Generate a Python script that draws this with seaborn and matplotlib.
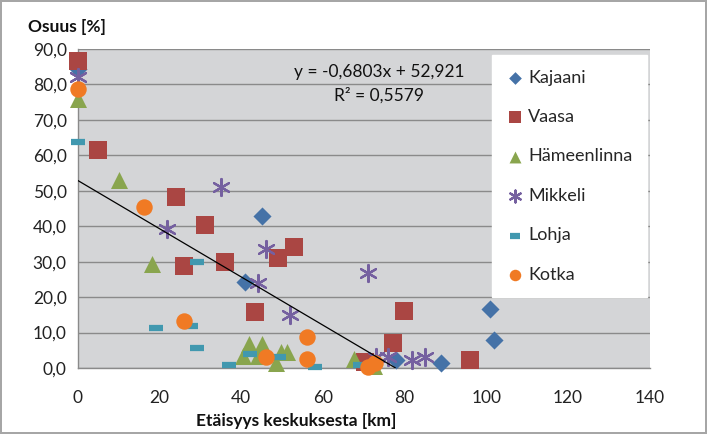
import numpy as np
import pandas as pd
import matplotlib
matplotlib.use("Agg")
import matplotlib.pyplot as plt
import seaborn as sns

# Share of trips (%) against distance from the centre (km), per town
kajaani_x = [0, 45.0, 40.9, 78.0, 89.0, 101.0, 101.8]
kajaani_y = [84.5, 42.9, 24.3, 2.4, 1.5, 16.6, 7.9]

vaasa_x = [0, 5.0, 24.0, 31.2, 52.9, 49.0, 26.1, 36.1, 43.3, 79.9, 77.2, 70.4, 96.1]
vaasa_y = [86.5, 61.5, 48.3, 40.3, 34.2, 31.0, 28.9, 30.0, 15.8, 16.2, 7.1, 1.8, 2.3]

hameenlinna_x = [0, 10.0, 18.2, 41.9, 45.0, 40.4, 44.0, 49.8, 51.2, 48.6, 67.5, 72.5]
hameenlinna_y = [76.0, 53.0, 29.4, 6.9, 6.9, 3.5, 3.5, 4.6, 4.6, 1.4, 2.5, 0.5]

mikkeli_x = [0, 35.0, 21.9, 46.0, 44.1, 51.9, 71.1, 73.1, 76.0, 81.7, 84.9]
mikkeli_y = [82.0, 51.0, 39.1, 33.5, 24.1, 15.0, 26.7, 3.0, 3.2, 2.3, 3.0]

lohja_x = [0, 19.1, 27.8, 29.2, 29.2, 37.0, 42.1, 49.2, 58.0, 69.0]
lohja_y = [63.7, 11.3, 11.9, 30.0, 5.6, 0.8, 3.9, 3.2, 0.2, 0.8]

kotka_x = [0, 16.2, 26.1, 46.0, 56.0, 56.0, 71.0, 72.7]
kotka_y = [78.6, 45.3, 13.2, 3.2, 8.7, 2.5, 0.4, 1.4]

# Linear trend over all towns
trend_slope = -0.6803
trend_intercept = 52.921
trend_r2 = 0.5579

x_ticks = [0, 20, 40, 60, 80, 100, 120, 140]
y_ticks = [0, 10, 20, 30, 40, 50, 60, 70, 80, 90]

series = [
    ("Kajaani", kajaani_x, kajaani_y, "D", "#4572A7", 85),
    ("Vaasa", vaasa_x, vaasa_y, "s", "#AA4643", 150),
    ("Hämeenlinna", hameenlinna_x, hameenlinna_y, "^", "#89A54E", 150),
    ("Mikkeli", mikkeli_x, mikkeli_y, (6, 2, 0), "#7560A0", 150),
    ("Lohja", lohja_x, lohja_y, "_", "#4198AF", 100),
    ("Kotka", kotka_x, kotka_y, "o", "#F07A24", 140),
]

sns.set_theme(style="white")
plt.rcParams["font.family"] = ["Lato", "DejaVu Sans"]

fig = plt.figure(figsize=(7.07, 4.34), dpi=100)
fig.patch.set_edgecolor("#A6A6A6")
fig.patch.set_linewidth(1.5)
ax = fig.add_axes([0.110, 0.152, 0.809, 0.735])
ax.set_facecolor("#D4D5D7")

for name, xs, ys, marker, color, size in series:
    df = pd.DataFrame({"x": xs, "y": ys})
    if marker == "_":
        kw = dict(linewidth=4.5, edgecolor=color)
    elif isinstance(marker, tuple):
        kw = dict(linewidth=1.6, edgecolor=color)
    else:
        kw = dict(linewidth=0)
    sns.scatterplot(data=df, x="x", y="y", ax=ax, marker=marker, color=color,
                    s=size, label=name, clip_on=False, zorder=3, **kw)

# Trend line from x=0 to where it meets the x axis
x_end = -trend_intercept / trend_slope
trend = pd.DataFrame({"x": [0, x_end]})
trend["y"] = trend_slope * trend["x"] + trend_intercept
sns.lineplot(data=trend, x="x", y="y", ax=ax, color="black", linewidth=0.9,
             zorder=4, legend=False)

ax.set_xlim(0, 140)
ax.set_ylim(0, 90)
ax.set_xticks(x_ticks)
ax.set_yticks(y_ticks)
ax.set_xticklabels([str(t) for t in x_ticks])
ax.set_yticklabels([f"{t:.1f}".replace(".", ",") for t in y_ticks])
ax.tick_params(axis="x", labelsize=12.5, colors="#222222", length=0, pad=16)
ax.tick_params(axis="y", labelsize=12.5, colors="#222222", length=4,
               color="#8A8A8A", direction="out", pad=4)
ax.yaxis.grid(True, color="#8A8A8A", linewidth=1)
ax.xaxis.grid(False)
ax.set_axisbelow(True)
for side in ["top", "right"]:
    ax.spines[side].set_visible(False)
for side in ["left", "bottom"]:
    ax.spines[side].set_color("#8A8A8A")
    ax.spines[side].set_linewidth(1)

ax.set_xlabel("")
ax.set_ylabel("")
fig.text(0.040, 0.937, "Osuus [%]", fontsize=12.5, fontweight="bold",
         color="#111111", va="center", ha="left")
fig.text(0.419, 0.030, "Etäisyys keskuksesta [km]", fontsize=12.5,
         fontweight="bold", color="#111111", va="center", ha="center")

ax.text(0.527, 0.927, "y = -0,6803x + 52,921", transform=ax.transAxes,
        fontsize=12.5, ha="center", va="center", color="#111111")
ax.text(0.527, 0.855, f"R² = {trend_r2:.4f}".replace(".", ","), transform=ax.transAxes,
        fontsize=12.5, ha="center", va="center", color="#111111")

leg = ax.legend(loc="upper left", bbox_to_anchor=(0.724, 0.981), frameon=True,
                fontsize=13, labelspacing=1.3, handletextpad=0.2,
                handlelength=1.0, borderpad=0.8, borderaxespad=0,
                fancybox=False, markerscale=0.7)
leg.get_frame().set_facecolor("white")
leg.get_frame().set_edgecolor("white")
leg.get_frame().set_alpha(1)
leg.set_zorder(5)

fig.savefig("out.png", dpi=100, facecolor="white", edgecolor=fig.get_edgecolor())
